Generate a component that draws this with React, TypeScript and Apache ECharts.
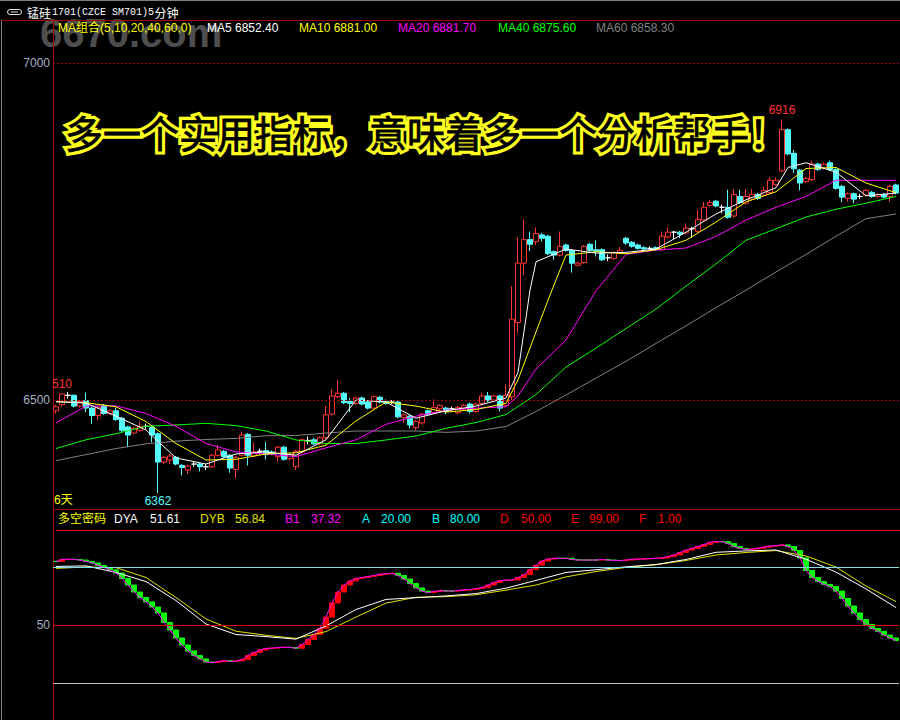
import React, { useEffect, useRef } from 'react';
import * as echarts from 'echarts';

// [open, close, low, high]
const candles: number[][] = [
  [6484, 6490, 6480, 6493], [6493, 6509, 6490, 6510], [6507, 6507, 6502, 6512], [6507, 6491, 6489, 6508], [6491, 6498, 6489, 6500],
  [6499, 6488, 6482, 6511], [6488, 6477, 6465, 6490], [6477, 6489, 6470, 6491], [6492, 6480, 6478, 6494], [6480, 6484, 6478, 6486],
  [6484, 6471, 6469, 6489], [6473, 6455, 6452, 6475], [6460, 6448, 6430, 6462], [6451, 6458, 6449, 6460], [6455, 6461, 6453, 6468],
  [6461, 6461, 6457, 6465], [6459, 6448, 6437, 6462], [6450, 6408, 6362, 6452], [6408, 6415, 6405, 6417], [6411, 6417, 6405, 6420],
  [6415, 6405, 6403, 6417], [6403, 6400, 6388, 6405], [6396, 6402, 6390, 6404], [6405, 6405, 6401, 6409], [6405, 6401, 6394, 6407],
  [6401, 6401, 6396, 6405], [6401, 6418, 6399, 6420], [6418, 6426, 6416, 6433], [6424, 6416, 6414, 6426], [6418, 6399, 6392, 6420],
  [6397, 6415, 6384, 6417], [6418, 6448, 6416, 6453], [6449, 6418, 6403, 6451], [6417, 6423, 6415, 6437], [6424, 6424, 6419, 6428],
  [6425, 6419, 6412, 6438], [6423, 6420, 6418, 6425], [6416, 6430, 6409, 6432], [6430, 6412, 6410, 6432], [6413, 6419, 6410, 6421],
  [6401, 6424, 6396, 6426], [6423, 6441, 6421, 6443], [6440, 6440, 6434, 6446], [6441, 6435, 6433, 6444], [6435, 6444, 6433, 6446],
  [6444, 6478, 6442, 6491], [6479, 6506, 6477, 6516], [6505, 6510, 6503, 6530], [6510, 6496, 6494, 6512], [6498, 6495, 6482, 6503],
  [6495, 6503, 6493, 6505], [6503, 6494, 6492, 6505], [6497, 6488, 6486, 6499], [6488, 6505, 6486, 6507], [6504, 6497, 6495, 6506],
  [6498, 6495, 6493, 6501], [6497, 6497, 6494, 6500], [6497, 6475, 6473, 6499], [6474, 6478, 6466, 6480], [6476, 6463, 6458, 6478],
  [6459, 6468, 6455, 6470], [6466, 6479, 6464, 6481], [6484, 6479, 6477, 6486], [6481, 6489, 6479, 6501], [6487, 6492, 6485, 6494],
  [6488, 6483, 6479, 6490], [6487, 6487, 6484, 6490], [6481, 6489, 6479, 6491], [6487, 6492, 6485, 6494], [6494, 6483, 6480, 6496],
  [6483, 6494, 6481, 6496], [6495, 6506, 6493, 6510], [6506, 6499, 6497, 6512], [6500, 6506, 6498, 6508], [6506, 6488, 6483, 6508],
  [6492, 6507, 6490, 6523], [6505, 6620, 6500, 6669], [6615, 6703, 6600, 6741], [6703, 6738, 6685, 6768], [6738, 6731, 6721, 6750],
  [6735, 6747, 6730, 6756], [6745, 6740, 6735, 6748], [6743, 6717, 6715, 6745], [6720, 6715, 6708, 6722], [6715, 6728, 6713, 6750],
  [6730, 6722, 6720, 6732], [6722, 6703, 6689, 6724], [6700, 6703, 6698, 6705], [6704, 6728, 6702, 6730], [6731, 6722, 6720, 6733],
  [6723, 6721, 6713, 6737], [6723, 6708, 6706, 6725], [6711, 6711, 6706, 6716], [6710, 6719, 6708, 6721], [6718, 6722, 6716, 6727],
  [6740, 6733, 6730, 6742], [6734, 6728, 6726, 6736], [6730, 6725, 6723, 6732], [6726, 6724, 6722, 6728], [6725, 6725, 6722, 6728],
  [6726, 6723, 6721, 6728], [6723, 6743, 6721, 6750], [6742, 6749, 6740, 6756], [6749, 6749, 6739, 6751], [6749, 6746, 6740, 6751],
  [6748, 6755, 6746, 6762], [6754, 6754, 6741, 6757], [6750, 6768, 6748, 6782], [6767, 6786, 6765, 6794], [6789, 6793, 6787, 6797],
  [6795, 6788, 6786, 6797], [6786, 6786, 6777, 6790], [6786, 6771, 6769, 6812], [6773, 6805, 6771, 6813], [6802, 6793, 6791, 6812],
  [6792, 6802, 6790, 6813], [6798, 6805, 6796, 6813], [6805, 6799, 6797, 6807], [6804, 6811, 6802, 6816], [6808, 6826, 6806, 6830],
  [6820, 6826, 6818, 6830], [6840, 6901, 6838, 6916], [6901, 6865, 6863, 6903], [6866, 6843, 6837, 6871], [6841, 6822, 6811, 6843],
  [6824, 6829, 6822, 6831], [6827, 6850, 6825, 6855], [6850, 6842, 6840, 6852], [6844, 6850, 6842, 6852], [6852, 6842, 6840, 6855],
  [6842, 6814, 6812, 6844], [6817, 6801, 6794, 6819], [6799, 6806, 6794, 6808], [6806, 6798, 6792, 6808], [6802, 6802, 6798, 6806],
  [6804, 6811, 6802, 6813], [6808, 6802, 6800, 6810], [6802, 6805, 6800, 6807], [6805, 6801, 6799, 6807], [6802, 6817, 6794, 6819],
  [6819, 6807, 6805, 6821],
];

// moving averages: [bar index, value]
const ma5: number[][] = [
  [0, 6497.5], [5, 6495.5], [10, 6476], [15, 6455.5], [20, 6414], [25, 6405], [30, 6420], [35, 6423], [40, 6418],
  [45, 6441], [50, 6500], [55, 6497], [60, 6473], [65, 6484], [70, 6491], [75, 6503], [77, 6541], [79, 6663], [80, 6705],
  [85, 6724], [90, 6718], [95, 6719], [100, 6724], [105, 6749], [110, 6776], [115, 6797], [120, 6815], [122, 6845],
  [125, 6852], [130, 6838], [135, 6803], [140, 6807],
];
const ma10: number[][] = [
  [0, 6497.5], [5, 6496], [10, 6490], [15, 6468], [20, 6435.5], [25, 6411], [30, 6412], [35, 6420], [40, 6421.7],
  [45, 6433], [50, 6469], [55, 6497], [60, 6491], [65, 6482], [70, 6486], [75, 6495], [77, 6530], [80, 6601], [82, 6648],
  [84, 6693], [85, 6715], [90, 6720], [95, 6717], [100, 6723], [105, 6737], [110, 6764], [115, 6794], [120, 6809],
  [125, 6843.5], [130, 6845], [135, 6822], [140, 6807.5],
];
const ma20: number[][] = [
  [0, 6466], [5, 6491], [10, 6491.4], [15, 6480], [20, 6461], [25, 6435.5], [30, 6423], [35, 6420], [40, 6416],
  [45, 6429], [50, 6441], [55, 6464], [60, 6476], [65, 6485], [70, 6488], [75, 6490], [77, 6506], [80, 6546], [85, 6589],
  [90, 6662], [95, 6716], [100, 6722.5], [105, 6725.5], [110, 6742.6], [115, 6767], [120, 6786], [125, 6802],
  [130, 6826], [135, 6826], [140, 6826],
];
const ma40: number[][] = [
  [0, 6428], [5, 6441], [10, 6450], [15, 6461], [20, 6463], [25, 6465.4], [30, 6462], [35, 6454], [40, 6440.7],
  [45, 6435.5], [50, 6435.5], [55, 6440.7], [60, 6446.6], [65, 6458], [70, 6466.6], [75, 6478.5], [80, 6508], [85, 6549],
  [90, 6577], [95, 6606], [100, 6635], [105, 6669], [110, 6702], [115, 6737], [120, 6754], [125, 6771.5], [130, 6783],
  [135, 6792], [140, 6802],
];
const ma60: number[][] = [
  [0, 6410], [5, 6419], [10, 6428], [15, 6435], [20, 6439], [25, 6441.4], [30, 6443], [35, 6447], [40, 6447.3],
  [45, 6451], [50, 6454], [55, 6454], [60, 6454], [65, 6452], [70, 6454], [75, 6460.7], [80, 6483], [85, 6507.4],
  [90, 6532.6], [95, 6557.4], [100, 6584], [105, 6610], [110, 6637], [115, 6663], [120, 6690], [125, 6716], [130, 6743],
  [135, 6769], [140, 6776],
];

// 多空密码 indicator
const b1: number[] = [
  82.8, 83.8, 83.9, 83.8, 83.5, 82.8, 82.0, 80.7, 79.7, 78.4,
  76.8, 74.0, 70.6, 67.0, 64.2, 61.9, 59.3, 56.2, 51.3, 47.4,
  43.3, 39.7, 36.6, 34.3, 32.5, 30.9, 30.6, 31.1, 31.6, 31.2,
  31.4, 32.2, 34.3, 35.8, 37.1, 37.9, 38.1, 38.4, 38.5, 38.4,
  38.0, 39.9, 42.5, 45.1, 48.3, 54.1, 61.4, 67.0, 70.6, 72.7,
  74.0, 74.5, 75.0, 75.5, 76.2, 76.4, 76.7, 75.5, 73.7, 71.4,
  69.1, 67.5, 66.7, 67.3, 67.7, 67.5, 67.5, 67.8, 68.1, 68.3,
  68.8, 69.3, 70.6, 71.9, 72.9, 73.1, 73.2, 74.5, 76.0, 78.6,
  80.9, 83.0, 84.0, 84.4, 84.4, 84.4, 83.8, 83.5, 83.5, 83.5,
  83.5, 83.8, 83.5, 83.3, 83.2, 83.5, 83.9, 84.0, 84.1, 84.3,
  84.4, 84.6, 85.3, 86.1, 87.4, 88.6, 89.5, 90.5, 91.5, 92.6,
  93.0, 93.0, 92.0, 90.4, 89.5, 89.0, 89.2, 89.6, 90.2, 90.7,
  91.0, 91.3, 90.5, 88.4, 84.6, 78.1, 74.5, 72.4, 70.9, 69.8,
  67.5, 63.7, 59.8, 56.2, 52.8, 50.3, 48.2, 46.7, 44.8, 43.3,
  42.0,
];
const dya: number[][] = [
  [0, 80.2], [5, 80.5], [10, 77.1], [15, 72.4], [20, 62.6], [25, 50.5], [30, 45.1], [35, 44.0], [40, 42.7],
  [45, 49.5], [50, 58.0], [55, 63.2], [60, 64.1], [65, 65.0], [70, 66.2], [75, 69.0], [80, 73.0], [85, 77.1],
  [90, 78.5], [95, 80.0], [100, 81.2], [105, 83.8], [110, 87.5], [115, 88.2], [120, 88.7], [125, 83.9],
  [130, 77.3], [135, 68.6], [140, 59.0],
];
const dyb: number[][] = [
  [0, 79.2], [5, 79.9], [10, 79.6], [15, 74.5], [20, 64.2], [25, 53.1], [30, 46.8], [35, 44.7], [40, 43.1],
  [45, 46.6], [50, 54.1], [55, 61.3], [60, 64.3], [65, 64.6], [70, 65.6], [75, 68.0], [80, 70.6], [85, 74.8],
  [90, 77.6], [95, 79.7], [100, 81.1], [105, 83.3], [110, 86.1], [115, 87.4], [120, 88.4], [125, 85.6],
  [130, 79.9], [135, 70.1], [140, 62.1],
];

const priceTicks = [6500, 7000];
const indTicks = [50];
const indLevels = [80, 50, 20];

const maLegend = [
  { text: 'MA组合(5,10,20,40,60,0)', x: 58, color: '#ffff00' },
  { text: 'MA5 6852.40', x: 207, color: '#ffffff' },
  { text: 'MA10 6881.00', x: 299, color: '#ffff00' },
  { text: 'MA20 6881.70', x: 398, color: '#ff00ff' },
  { text: 'MA40 6875.60', x: 498, color: '#00ff00' },
  { text: 'MA60 6858.30', x: 596, color: '#808080' },
];
const indLegend = [
  { text: '多空密码', x: 58, color: '#ffff00' },
  { text: 'DYA', x: 114, color: '#ffffff' },
  { text: '51.61', x: 150, color: '#ffffff' },
  { text: 'DYB', x: 200, color: '#e0e000' },
  { text: '56.84', x: 235, color: '#e0e000' },
  { text: 'B1', x: 285, color: '#ff00ff' },
  { text: '37.32', x: 311, color: '#ff00ff' },
  { text: 'A', x: 362, color: '#00ffff' },
  { text: '20.00', x: 381, color: '#00ffff' },
  { text: 'B', x: 432, color: '#00ffff' },
  { text: '80.00', x: 450, color: '#00ffff' },
  { text: 'D', x: 500, color: '#ff0000' },
  { text: '50.00', x: 521, color: '#ff0000' },
  { text: 'E', x: 571, color: '#ff0000' },
  { text: '99.00', x: 589, color: '#ff0000' },
  { text: 'F', x: 639, color: '#ff0000' },
  { text: '1.00', x: 658, color: '#ff0000' },
];

const SLOGAN = '多一个实用指标，意味着多一个分析帮手！';
const FONT = '12px "Liberation Sans", "Noto Sans CJK SC", sans-serif';

function txt(text: string, x: number, y: number, color: string, font = FONT, extra: any = {}) {
  return {
    type: 'text', x, y, silent: true,
    style: { text, fill: color, font, textAlign: 'left', textVerticalAlign: 'middle', align: 'left', verticalAlign: 'middle', ...extra },
  };
}
function ln(x1: number, y1: number, x2: number, y2: number, color: string) {
  return { type: 'line', silent: true, shape: { x1, y1, x2, y2 }, style: { stroke: color, lineWidth: 1 } };
}

export default function App() {
  const ref = useRef<HTMLDivElement>(null);
  useEffect(() => {
    document.body.style.margin = '0';
    document.body.style.background = '#000';
    const chart = echarts.init(ref.current!, undefined, { renderer: 'svg' });
    const categories = candles.map((_, i) => String(i));
    const bars = b1.map((v, i) => {
      const o = i > 0 ? b1[i - 1] : v;
      return [o, v, Math.min(o, v), Math.max(o, v)];
    });
    const maLine = (data: number[][], color: string) => ({
      type: 'line', xAxisIndex: 0, yAxisIndex: 0, data, symbol: 'none', connectNulls: true,
      lineStyle: { color, width: 1 }, silent: true, z: 3,
    });
    const indLine = (data: any[], color: string, z = 3) => ({
      type: 'line', xAxisIndex: 1, yAxisIndex: 1, data, symbol: 'none', connectNulls: true,
      lineStyle: { color, width: 1 }, silent: true, z,
    });
    const sloganFont = '38px "Noto Sans CJK SC", sans-serif';
    const option: any = {
      animation: false,
      backgroundColor: '#000',
      grid: [
        { left: 53, top: 20, width: 846, height: 489, outerBoundsMode: 'none', containLabel: false },
        { left: 53, top: 530, width: 846, height: 190, outerBoundsMode: 'none', containLabel: false },
      ],
      xAxis: [
        { type: 'category', gridIndex: 0, data: categories, show: false, boundaryGap: true },
        { type: 'category', gridIndex: 1, data: categories, show: false, boundaryGap: true },
      ],
      yAxis: [
        {
          type: 'value', gridIndex: 0, min: 6338.3, max: 7063.8,
          axisLine: { show: false }, axisTick: { show: false }, splitLine: { show: false },
          axisLabel: {
            customValues: priceTicks, color: '#a8b0c0', fontSize: 12, fontFamily: 'Liberation Sans', margin: 3,
            formatter: (v: number) => String(v),
          },
        },
        {
          type: 'value', gridIndex: 1, min: 1, max: 99,
          axisLine: { show: false }, axisTick: { show: false }, splitLine: { show: false },
          axisLabel: {
            customValues: indTicks, color: '#a8b0c0', fontSize: 12, fontFamily: 'Liberation Sans', margin: 3,
            formatter: (v: number) => String(v),
          },
        },
      ],
      series: [
        {
          type: 'candlestick', xAxisIndex: 0, yAxisIndex: 0, data: candles, barWidth: 5, silent: true,
          itemStyle: {
            color: '#000000', color0: '#54fcfc', borderColor: '#ff3232', borderColor0: '#54fcfc',
            borderColorDoji: '#ffffff', borderWidth: 1,
          },
          markLine: {
            silent: true, symbol: 'none', label: { show: false },
            lineStyle: { color: '#a00000', type: [2, 2], width: 1 },
            data: priceTicks.map((v) => ({ yAxis: v })),
          },
          markPoint: {
            silent: true, symbol: 'circle', symbolSize: 1, itemStyle: { color: 'rgba(0,0,0,0)' },
            data: [
              { coord: [1, 6510], label: { show: true, formatter: '510', position: 'top', distance: 3, color: '#ff3232', fontSize: 12, fontFamily: 'Liberation Sans' } },
              { coord: [121, 6916], label: { show: true, formatter: '6916', position: 'top', distance: 3, color: '#ff3232', fontSize: 12, fontFamily: 'Liberation Sans' } },
              { coord: [17, 6362], label: { show: true, formatter: '6362', position: 'bottom', distance: 1, color: '#54fcfc', fontSize: 12, fontFamily: 'Liberation Sans' } },
            ],
          },
        },
        maLine(ma60, '#808080'),
        maLine(ma40, '#00ff00'),
        maLine(ma20, '#ff00ff'),
        maLine(ma10, '#ffff00'),
        maLine(ma5, '#ffffff'),
        {
          type: 'candlestick', xAxisIndex: 1, yAxisIndex: 1, data: bars, barWidth: 5, silent: true,
          itemStyle: {
            color: '#ff0000', color0: '#00ff00', borderColor: '#ff0000', borderColor0: '#00ff00',
            borderColorDoji: '#00ff00', borderWidth: 1,
          },
          markLine: {
            silent: true, symbol: 'none', label: { show: false },
            data: indLevels.map((v) => ({
              yAxis: v,
              lineStyle: { color: v === 80 ? '#7fe0e8' : v === 50 ? '#e00000' : '#c0c0c0', type: 'solid', width: 1 },
            })),
          },
        },
        indLine(dyb, '#e0e000'),
        indLine(dya, '#ffffff'),
        indLine(b1, '#ff00ff', 4),
      ],
      graphic: [
        ln(0, 0.5, 900, 0.5, '#808080'),
        ln(1.5, 20, 1.5, 720, '#808080'),
        txt('6670.com', 40, 33, '#4e4e4e', 'bold 40px "Liberation Sans", sans-serif'),
        ln(3, 20.5, 900, 20.5, '#a00000'),
        ln(53.5, 20, 53.5, 720, '#a00000'),
        ln(53, 509.5, 900, 509.5, '#a00000'),
        ln(56, 530.5, 900, 530.5, '#ff0000'),
        { type: 'rect', silent: true, shape: { x: 7.5, y: 9.5, width: 14, height: 5, r: 2.5 }, style: { stroke: '#e0e0e0', fill: 'none', lineWidth: 1 } },
        ln(11, 12, 18, 12, '#e0e0e0'),
        txt('锰硅', 27, 12, '#ffffff', '12px "Noto Sans CJK SC", sans-serif'),
        txt('1701(CZCE SM701)5', 52, 12, '#ffffff', '10px "Liberation Mono", monospace'),
        txt('分钟', 154.5, 12, '#ffffff', '12px "Noto Sans CJK SC", sans-serif'),
        ...maLegend.map((l) => txt(l.text, l.x, 28, l.color)),
        ...indLegend.map((l) => txt(l.text, l.x, 519, l.color)),
        txt('6天', 54, 500, '#ffff00'),
        // glow layer behind the slogan
        {
          type: 'text', x: 65, y: 131, silent: true, z: 9,
          style: {
            text: SLOGAN, font: sloganFont,
            fill: '#ffff00', stroke: '#ffff20', lineWidth: 7,
            shadowBlur: 12, shadowColor: '#ffff00',
            textAlign: 'left', textVerticalAlign: 'middle', align: 'left', verticalAlign: 'middle',
          },
        },
        {
          type: 'text', x: 65, y: 131, silent: true, z: 10,
          style: {
            text: SLOGAN, font: sloganFont, fill: '#000000', stroke: '#000000', lineWidth: 0.8,
            textAlign: 'left', textVerticalAlign: 'middle', align: 'left', verticalAlign: 'middle',
          },
        },
      ],
    };
    chart.setOption(option);
    return () => chart.dispose();
  }, []);
  return <div ref={ref} style={{ position: 'fixed', left: 0, top: 0, width: 900, height: 720, background: '#000' }} />;
}
